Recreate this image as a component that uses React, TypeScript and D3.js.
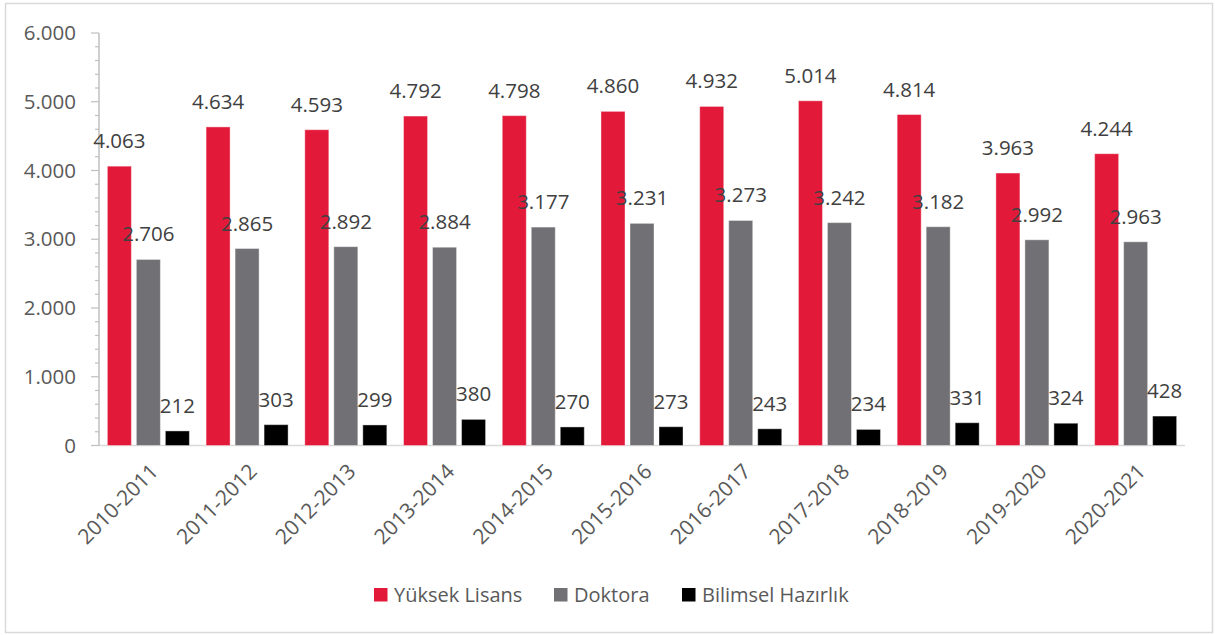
import React from "react";
import * as d3 from "d3";

const categories = ["2010-2011","2011-2012","2012-2013","2013-2014","2014-2015","2015-2016","2016-2017","2017-2018","2018-2019","2019-2020","2020-2021"];
const yuksekLisans = [4063, 4634, 4593, 4792, 4798, 4860, 4932, 5014, 4814, 3963, 4244];
const doktora = [2706, 2865, 2892, 2884, 3177, 3231, 3273, 3242, 3182, 2992, 2963];
const bilimsel = [212, 303, 299, 380, 270, 273, 243, 234, 331, 324, 428];
const seriesNames = ["Yüksek Lisans", "Doktora", "Bilimsel Hazırlık"];
const seriesColors = ["#E3193A", "#717074", "#000000"];
const yTicks = [0, 1000, 2000, 3000, 4000, 5000, 6000];

const W = 1215, H = 635;
const left = 99, right = 1185, top = 33, bottom = 445.5;
const FONT = "'Open Sans', 'Noto Sans', sans-serif";

const locale = d3.formatLocale({ decimal: ",", thousands: ".", grouping: [3], currency: ["", ""] });
const fmt = locale.format(",d");

export default function App() {
  const series = [yuksekLisans, doktora, bilimsel];
  const x0 = d3.scaleBand<string>().domain(categories).range([left, right]).paddingInner(0).paddingOuter(0);
  const x1 = d3.scaleBand<number>().domain([0, 1, 2]).range([0, x0.bandwidth()]).paddingInner(0.172).paddingOuter(0.288);
  const y = d3.scaleLinear().domain([0, 6000]).range([bottom, top]);
  const minor = d3.range(0, 6001, 200);

  return (
    <svg width={W} height={H} style={{ position: "absolute", left: 0, top: 0, background: "#fff" }}>
      <rect x={5.5} y={3.5} width={1207} height={629} fill="#fff" stroke="#d9d9d9" strokeWidth={1.5} />
      {/* axes */}
      <line x1={left} x2={right} y1={bottom} y2={bottom} stroke="#d9d9d9" strokeWidth={1.5} />
      <line x1={left} x2={left} y1={top} y2={bottom} stroke="#bfbfbf" strokeWidth={1.5} />
      {minor.map((v) => (
        <line key={"m" + v} x1={left - (v % 1000 === 0 ? 8 : 4)} x2={left} y1={y(v)} y2={y(v)} stroke="#bfbfbf" strokeWidth={1.2} />
      ))}
      {yTicks.map((v) => (
        <text key={"t" + v} x={76} y={y(v)} dy="0.35em" textAnchor="end" fontFamily={FONT} fontSize={20.5} fill="#595959">
          {fmt(v)}
        </text>
      ))}
      {/* bars */}
      {categories.map((c, i) => (
        <g key={c} transform={`translate(${x0(c)},0)`}>
          {series.map((s, k) => {
            const bx = x1(k)!;
            const bw = x1.bandwidth();
            return (
              <g key={k}>
                <rect x={bx} y={y(s[i])} width={bw} height={bottom - y(s[i])} fill={seriesColors[k]} stroke="#ffffff" strokeOpacity={0.4} strokeWidth={1} />
                <text x={bx + bw / 2} y={y(s[i]) - 18} textAnchor="middle" fontFamily={FONT} fontSize={20.5} fill="#404040">
                  {fmt(s[i])}
                </text>
              </g>
            );
          })}
        </g>
      ))}
      {/* x labels */}
      {categories.map((c) => {
        const cx = x0(c)! + x0.bandwidth() / 2 + 6;
        const cy = bottom + 22;
        return (
          <text key={"x" + c} transform={`translate(${cx},${cy}) rotate(-45)`} textAnchor="end" dy="0.35em" fontFamily={FONT} fontSize={21} fill="#595959">
            {c}
          </text>
        );
      })}
      {/* legend */}
      {(() => {
        const xs = [374, 554, 682];
        return seriesNames.map((n, k) => (
          <g key={n} transform={`translate(${xs[k]},588)`}>
            <rect x={0} y={0} width={13.5} height={13.5} fill={seriesColors[k]} />
            <text x={20} y={7} dy="0.35em" fontFamily={FONT} fontSize={20} fill="#595959">
              {n}
            </text>
          </g>
        ));
      })()}
    </svg>
  );
}
